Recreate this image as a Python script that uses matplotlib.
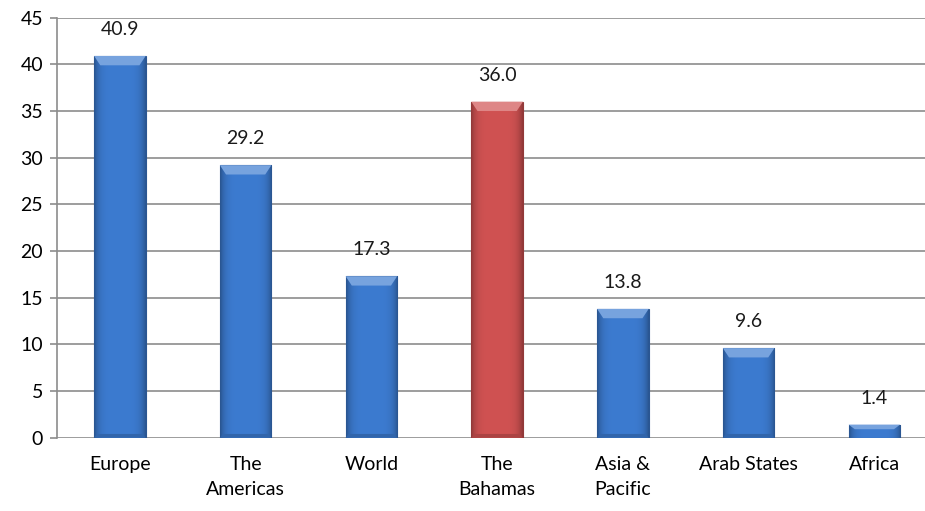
#!/usr/bin/env python3
"""Regional comparison bar chart with bevelled Excel-style columns."""

import matplotlib
matplotlib.use('Agg')
import matplotlib.pyplot as plt
import matplotlib.colors as mcolors
from matplotlib.patches import Polygon
import numpy as np

# Data
regions = ['Europe', 'The\nAmericas', 'World', 'The\nBahamas', 'Asia &\nPacific', 'Arab States', 'Africa']
values = [40.9, 29.2, 17.3, 36.0, 13.8, 9.6, 1.4]
highlight = 'The\nBahamas'

C_BLUE = '#3c7bd0'
C_RED = '#d05252'
C_GRID = '#8c8c8c'
FS = 14

plt.rcParams['font.family'] = ['Lato', 'DejaVu Sans']


def shade(color, f):
    rgb = np.array(mcolors.to_rgb(color))
    if f >= 1:
        return tuple(rgb + (1 - rgb) * (f - 1))
    return tuple(rgb * f)


def bevel_bar(ax, bar, color):
    x0, y0 = bar.get_x(), bar.get_y()
    w, h = bar.get_width(), bar.get_height()
    bar.set_facecolor('none')
    bar.set_edgecolor('none')

    # horizontal cylinder gradient: darker at the sides
    t = np.linspace(-1, 1, 64)
    prof = 1.0 - 0.3 * np.abs(t) ** 5
    img = np.array([[shade(color, p) for p in prof]])
    im = ax.imshow(img, extent=(x0, x0 + w, y0, y0 + h), aspect='auto',
                   interpolation='bicubic', zorder=3)
    im.set_clip_path(bar)

    # thin darker outline and a lighter bevel on top
    ax.add_patch(plt.Rectangle((x0, y0), w, h, fill=False,
                               edgecolor=shade(color, 0.7), linewidth=0.8, zorder=4))
    bh = min(1.0, h * 0.35)
    dx = w * 0.12
    ax.add_patch(Polygon([(x0, y0 + h), (x0 + w, y0 + h),
                          (x0 + w - dx, y0 + h - bh), (x0 + dx, y0 + h - bh)],
                         closed=True, facecolor=shade(color, 1.3),
                         edgecolor='none', zorder=4))
    if h > 2:
        ax.add_patch(Polygon([(x0, y0), (x0 + w, y0),
                              (x0 + w - dx * 0.5, y0 + 0.4), (x0 + dx * 0.5, y0 + 0.4)],
                             closed=True, facecolor=shade(color, 0.82),
                             edgecolor='none', zorder=4))


fig = plt.figure(figsize=(9.25, 5.11), dpi=100)
fig.patch.set_facecolor('white')
ax = fig.add_axes([57 / 925, 1 - 437.7 / 511, (7 * 125.75) / 925, 420 / 511])

x = np.arange(len(regions))
colors = [C_RED if r == highlight else C_BLUE for r in regions]
bars = ax.bar(x, values, width=0.41, zorder=3)
for bar, c, v in zip(bars, colors, values):
    bevel_bar(ax, bar, c)
    ax.annotate(f'{v:.1f}', (bar.get_x() + bar.get_width() / 2, v),
                xytext=(0, 19), textcoords='offset points',
                ha='center', va='center', fontsize=FS, color='#1a1a1a')

ax.set_xlim(-0.5, len(regions) - 0.5)
ax.set_ylim(0, 45)
ax.set_yticks(np.arange(0, 46, 5))
ax.set_xticks(x)
ax.set_xticklabels(regions, fontsize=FS, va='top', linespacing=1.6)
ax.tick_params(axis='x', length=0, pad=13)
ax.tick_params(axis='y', length=5, width=1.2, color=C_GRID, labelsize=FS, pad=5)

ax.grid(True, axis='y', color=C_GRID, linewidth=1.2, zorder=0)
ax.set_axisbelow(True)
for side in ['top', 'right', 'bottom']:
    ax.spines[side].set_visible(False)
ax.spines['left'].set_color(C_GRID)
ax.spines['left'].set_linewidth(1.2)

fig.savefig('out.png', dpi=100)
